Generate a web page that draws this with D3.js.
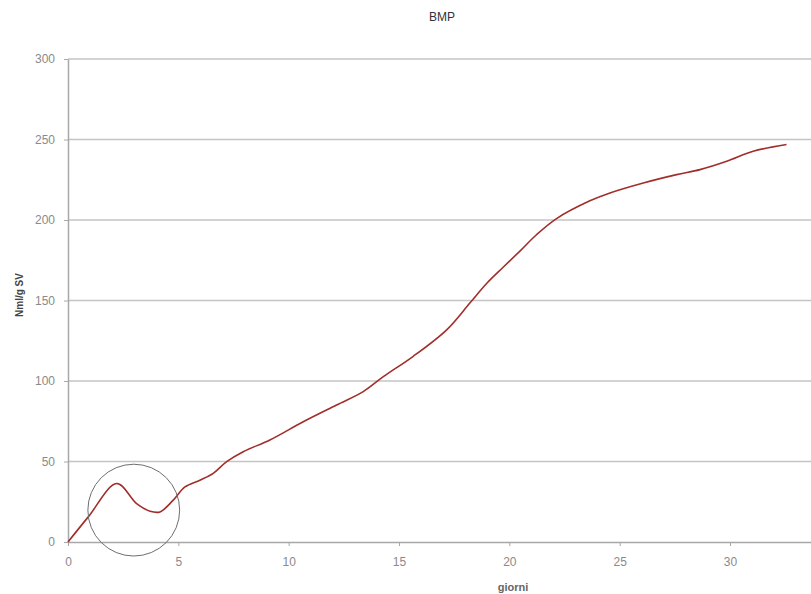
<!DOCTYPE html>
<html>
<head>
<meta charset="utf-8">
<script src="https://cdn.jsdelivr.net/npm/d3@7"></script>
<style>
  body { margin: 0; background: #fff; }
  svg { display: block; }
  .tick text { font-family: "Liberation Sans", Arial, sans-serif; }
</style>
</head>
<body>
<script>
// days since start (giorni)
var days = [0, 0.92, 2.21, 3.11, 3.72, 4.17, 4.77, 5.3, 5.98, 6.58, 7.19, 7.94, 9.15,
            10.66, 12.17, 13.38, 14.29, 15.63, 17.16, 18.21, 19.0, 19.73, 20.48,
            21.24, 22.14, 23.65, 24.56, 26.07, 27.58, 28.64, 29.85, 31.05, 32.56];
// cumulative biogas, Nml/g SV
var bmp = [0, 15.6, 36.3, 23.8, 19.1, 18.7, 26, 34.2, 38.4, 42.6, 49.9, 56.1, 63.4,
           74.7, 85.1, 93.4, 102.7, 115.2, 131.8, 148.4, 161, 170.8, 180.7,
           191, 200.9, 211.9, 216.8, 223, 228.2, 231.3, 236.5, 242.7, 246.9];
var xTicks = [0, 5, 10, 15, 20, 25, 30];
var yTicks = [0, 50, 100, 150, 200, 250, 300];
// the dip that is circled on the chart: centre (day, value) and radius in days
var marked = { day: 2.98, value: 19.8, r: 2.08 };

var data = [];
for (var i = 0; i < days.length; i++) {
  data.push({ x: days[i], y: bmp[i] });
}

// set the dimensions and margins of the graph
var W = 811, H = 594;
var margin = {top: 59, right: 0, bottom: 52, left: 68},
    width = W - margin.left - margin.right,
    height = H - margin.top - margin.bottom;

// set the ranges (plot area is cut off at the right edge, like the original)
var x = d3.scaleLinear()
          .domain([0, 33.67])
          .range([0, width]);
var y = d3.scaleLinear()
          .domain([0, 300])
          .range([height, 0]);

var root = d3.select("body").append("svg")
    .attr("width", W)
    .attr("height", H);

var svg = root.append("g")
    .attr("transform", "translate(" + margin.left + "," + margin.top + ")");

// horizontal gridlines
svg.selectAll(".grid")
    .data(yTicks.slice(1))
  .enter().append("line")
    .attr("class", "grid")
    .attr("x1", 0)
    .attr("x2", width)
    .attr("y1", function(d) { return y(d); })
    .attr("y2", function(d) { return y(d); })
    .attr("stroke", "#c4c4c4")
    .attr("stroke-width", 1.4);

// add the x Axis
var xAxis = svg.append("g")
    .attr("transform", "translate(0," + height + ")")
    .call(d3.axisBottom(x).tickValues(xTicks).tickSize(4).tickSizeOuter(0).tickPadding(11));

// add the y Axis
var yAxis = svg.append("g")
    .call(d3.axisLeft(y).tickValues(yTicks).tickSize(4).tickSizeOuter(0).tickPadding(9));

[xAxis, yAxis].forEach(function(a) {
  a.select(".domain").attr("stroke", "#a8a8a8").attr("stroke-width", 1.5);
  a.selectAll(".tick line").attr("stroke", "#a8a8a8");
  a.selectAll(".tick text")
      .attr("fill", "#8a8a8a")
      .style("font-size", "12px");
});

// the curve
var line = d3.line()
    .x(function(d) { return x(d.x); })
    .y(function(d) { return y(d.y); })
    .curve(d3.curveCatmullRom.alpha(0.5));

svg.append("path")
    .datum(data)
    .attr("fill", "none")
    .attr("stroke", "#a02e2a")
    .attr("stroke-width", 1.6)
    .attr("d", line);

// circle around the early dip
svg.append("circle")
    .attr("cx", x(marked.day))
    .attr("cy", y(marked.value))
    .attr("r", x(marked.day + marked.r) - x(marked.day))
    .attr("fill", "none")
    .attr("stroke", "#6e6e6e")
    .attr("stroke-width", 1);

// title and axis labels
root.append("text")
    .attr("x", 442)
    .attr("y", 21)
    .attr("text-anchor", "middle")
    .style("font-family", "Liberation Sans, Arial, sans-serif")
    .style("font-size", "12px")
    .attr("fill", "#333")
    .text("BMP");

root.append("text")
    .attr("x", 513)
    .attr("y", 591)
    .attr("text-anchor", "middle")
    .style("font-family", "Liberation Sans, Arial, sans-serif")
    .style("font-size", "11px")
    .style("font-weight", "bold")
    .attr("fill", "#666")
    .text("giorni");

root.append("text")
    .attr("transform", "translate(23,295) rotate(-90)")
    .attr("text-anchor", "middle")
    .style("font-family", "Liberation Sans, Arial, sans-serif")
    .style("font-size", "10px")
    .style("font-weight", "bold")
    .attr("fill", "#444")
    .text("Nml/g SV");
</script>
</body>
</html>
